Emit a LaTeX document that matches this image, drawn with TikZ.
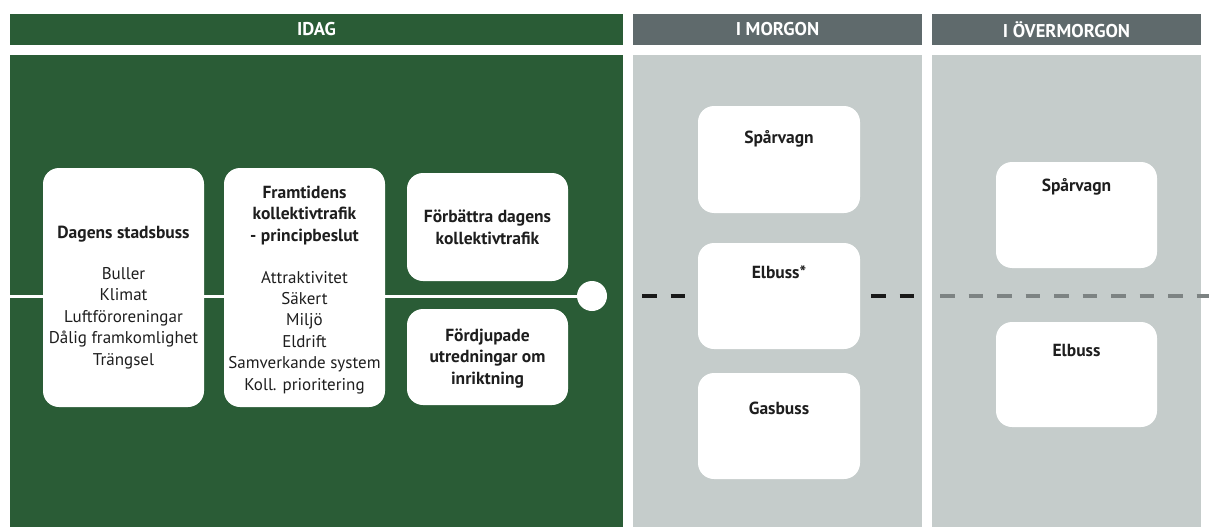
\documentclass[tikz,border=0pt]{standalone}
\usepackage{fontspec}
\setmainfont{PT Sans}
\definecolor{dgreen}{RGB}{42,92,54}
\definecolor{hgray}{RGB}{95,106,108}
\definecolor{pgray}{RGB}{197,204,203}
\definecolor{txt}{RGB}{30,30,30}
\definecolor{dashgray}{RGB}{125,131,131}
\begin{document}
\begin{tikzpicture}[x=1pt,y=-1pt,
  hdr/.style={inner sep=0, text=white, font=\fontsize{18.5}{20}\selectfont\bfseries},
  box/.style={fill=white, rounded corners=16pt, inner sep=0},
  bt/.style={inner sep=0, text=txt, align=center, font=\fontsize{17.5}{21.5}\selectfont\bfseries, anchor=base},
  lt/.style={inner sep=0, text=txt, align=center, font=\fontsize{17}{21.4}\selectfont, anchor=base},
  wline/.style={draw=white, line width=3pt},
  bdash/.style={draw=black!90, line width=4pt, dash pattern=on 14.5pt off 14pt},
  gdash/.style={draw=dashgray, line width=4pt, dash pattern=on 14.5pt off 14pt}
]
\useasboundingbox (0,0) rectangle (1209,527);
\fill[white] (0,0) rectangle (1209,527);
% headers
\node[hdr, fill=dgreen, minimum width=613, minimum height=31] (hidag) at (316.5,29.5) {IDAG};
\node[hdr, fill=hgray, minimum width=289, minimum height=31] (hmorgon) at (777.5,29.5) {I MORGON};
\node[hdr, fill=hgray, minimum width=269, minimum height=31] (hover) at (1066.5,29.5) {I ÖVERMORGON};
% panels
\fill[dgreen] (10,55) rectangle (623,527);
\fill[pgray] (633,55) rectangle (922,527);
\fill[pgray] (932,55) rectangle (1201,527);
% main line
\coordinate (lstart) at (10,296);
\node[circle, fill=white, minimum size=30, inner sep=0] (dot) at (592,296) {};
\draw[wline] (lstart) -- (dot);
% IDAG boxes
\node[box, minimum width=161, minimum height=239] (b1) at (123.5,287.5) {};
\node[box, minimum width=161, minimum height=239] (b2) at (304.5,287.5) {};
\node[box, minimum width=161, minimum height=108] (b3) at (487.5,227) {};
\node[box, minimum width=161, minimum height=96] (b4) at (487.5,357) {};
\node[bt] (t1) at (123.5,238) {Dagens stadsbuss};
\node[lt] (l1) at (123.5,365) {Buller\\Klimat\\Luftföroreningar\\Dålig framkomlighet\\Trängsel};
\node[bt] (t2) at (304.5,241) {Framtidens\\kollektivtrafik\\- principbeslut};
\node[lt] (l2) at (304.5,390) {Attraktivitet\\Säkert\\Miljö\\Eldrift\\Samverkande system\\Koll. prioritering};
\node[bt] (t3) at (487.5,244) {Förbättra dagens\\kollektivtrafik};
\node[bt] (t4) at (487.5,384) {Fördjupade\\utredningar om\\inriktning};
% I MORGON boxes
\node[box, minimum width=162, minimum height=107] (m1) at (779,159.5) {};
\node[box, minimum width=162, minimum height=106] (m2) at (779,296) {};
\node[box, minimum width=162, minimum height=106] (m3) at (779,426) {};
\node[bt] (mt1) at (779,143) {Spårvagn};
\node[bt] (mt2) at (779,278) {Elbuss*};
\node[bt] (mt3) at (779,414) {Gasbuss};
% I ÖVERMORGON boxes
\node[box, minimum width=161, minimum height=106] (o1) at (1076.5,215) {};
\node[box, minimum width=161, minimum height=105] (o2) at (1076.5,374.5) {};
\node[bt] (ot1) at (1076.5,191) {Spårvagn};
\node[bt] (ot2) at (1076.5,356) {Elbuss};
% dashed connectors
\coordinate (gapR) at (914,296);
\coordinate (gS) at (940,296);
\coordinate (gE) at (1209,296);
\draw[bdash, shorten <=35pt, shorten >=13pt] (dot.east) -- (m2.west);
\draw[bdash, shorten <=11pt] (m2.east) -- (gapR);
\draw[gdash] (gS) -- (gE);
\end{tikzpicture}
\end{document}
